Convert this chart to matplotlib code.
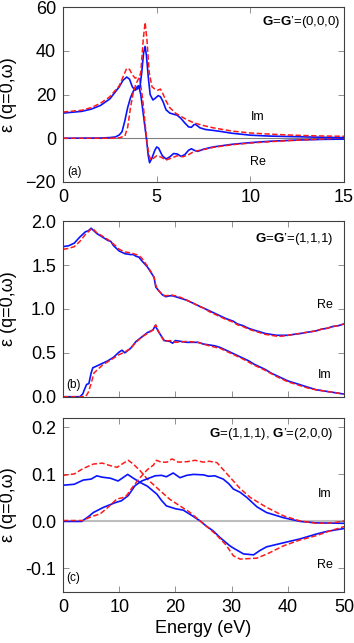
#!/usr/bin/env python3
"""
Dielectric matrix elements eps_GG'(q=0, w) -- three stacked panels.
Blue solid / red dashed = two levels of theory, Re and Im parts.
"""

import matplotlib
matplotlib.use('Agg')
import matplotlib.pyplot as plt

plt.rcParams['font.family'] = ['Liberation Sans', 'DejaVu Sans']
# bold G in the panel tags should match the text font, not DejaVu
plt.rcParams['mathtext.fontset'] = 'custom'
plt.rcParams['mathtext.rm'] = 'Liberation Sans'
plt.rcParams['mathtext.bf'] = 'Liberation Sans:bold'

# ---- panel (a): G=G'=(0,0,0), 0-15 eV ----
a_re_blue_x = [0, 1, 1.5, 2.0, 2.5, 3.0, 3.2, 3.4, 3.55, 3.7, 3.85, 3.95, 4.05, 4.15, 4.3, 4.45,
               4.55, 4.62, 4.75, 4.9, 5.0, 5.1, 5.3, 5.5, 5.7, 5.9, 6.1, 6.3, 6.5, 6.7, 6.85, 7.0,
               7.2, 7.5, 8, 9, 10, 11, 12, 13, 14, 15]
a_re_blue_y = [11.5, 12.3, 13.3, 15, 18, 23.5, 26.5, 28, 27, 23.5, 22, 22.5, 23.5, 20, 10, 0,
               -8, -11.2, -9, -5.5, -4, -4.5, -8, -9.5, -8.5, -7, -7.2, -8.3, -7.5, -5.5, -4.8, -5.5,
               -6, -5, -4, -2.8, -2, -1.4, -1, -0.7, -0.5, -0.4]
a_im_blue_x = [0, 2.0, 2.5, 2.8, 3.0, 3.15, 3.3, 3.45, 3.6, 3.75, 3.9, 4.02, 4.1, 4.2, 4.3, 4.38,
               4.45, 4.55, 4.65, 4.8, 4.95, 5.08, 5.2, 5.35, 5.5, 5.7, 5.9, 6.1, 6.3, 6.5, 6.7,
               6.85, 7.0, 7.1, 7.3, 7.6, 8, 8.5, 9, 10, 11, 12, 13, 14, 15]
a_im_blue_y = [0, 0.1, 0.3, 0.6, 1.5, 3, 8, 14, 18.5, 21.5, 23, 24, 23, 30, 39, 42,
               38, 28, 20, 17.5, 18.5, 19.5, 19, 16.5, 13, 11.5, 11, 10.5, 9, 7, 5.2,
               5, 6.3, 6.2, 4.8, 4, 3.6, 3, 2.3, 1.4, 1.0, 0.8, 0.6, 0.4, 0.3]
a_re_red_x = [0, 1, 1.5, 2, 2.5, 3.0, 3.2, 3.4, 3.55, 3.7, 3.85, 4.0, 4.1, 4.25, 4.4, 4.5, 4.6,
              4.7, 4.85, 5.0, 5.2, 5.5, 5.8, 6.1, 6.4, 6.7, 7.0, 7.3, 7.6, 8, 9, 10, 11, 12, 13, 14, 15]
a_re_red_y = [12, 12.8, 14, 16, 19, 24, 28, 32, 31.5, 29, 27.5, 28, 27, 18, 5, -3, -8,
              -10, -9, -8, -8.5, -10, -9, -8, -8.5, -7.5, -6, -5.5, -5, -4.2, -3, -2.2, -1.6, -1.1,
              -0.7, -0.3, 0.3]
a_im_red_x = [0, 2.5, 3.0, 3.3, 3.45, 3.6, 3.75, 3.9, 4.05, 4.15, 4.28, 4.38, 4.48, 4.6, 4.75,
              4.9, 5.05, 5.2, 5.35, 5.5, 5.7, 6.0, 6.3, 6.6, 7.0, 7.5, 8, 9, 10, 11, 12, 13, 14, 15]
a_im_red_y = [0, 0, 0.2, 1, 5, 14, 21, 25, 27.5, 30, 45, 53, 45, 30, 23.5,
              22.5, 22, 22.5, 20, 17, 14, 11.5, 10, 8.5, 7, 5.8, 4.8, 3.3, 2.4, 1.9, 1.5, 1.2, 1.0, 0.9]

# ---- panel (b): G=G'=(1,1,1), 0-50 eV ----
b_re_blue_x = [0, 1, 2, 3, 4, 4.5, 5, 5.5, 6, 7, 8, 8.5, 9, 10, 11, 12, 12.5, 13, 13.5, 14, 15,
               15.7, 16.2, 16.5, 17, 17.7, 18.3, 19, 19.5, 20, 21, 22, 23, 24.3, 25, 26, 27, 28,
               29, 30.3, 31, 32, 33, 33.9, 35, 36, 37, 38, 39, 40, 41, 42.2, 43, 44, 45, 46, 47,
               48, 49, 50]
b_re_blue_y = [1.71, 1.72, 1.75, 1.82, 1.88, 1.89, 1.92, 1.89, 1.86, 1.82, 1.78, 1.77, 1.72, 1.66,
               1.63, 1.62, 1.62, 1.60, 1.59, 1.55, 1.48, 1.41, 1.36, 1.25, 1.21, 1.16, 1.14, 1.15,
               1.15, 1.14, 1.12, 1.10, 1.07, 1.03, 1.01, 0.98, 0.95, 0.92, 0.89, 0.86, 0.83, 0.81,
               0.78, 0.76, 0.74, 0.72, 0.71, 0.70, 0.70, 0.70, 0.71, 0.72, 0.73, 0.74, 0.75,
               0.77, 0.78, 0.80, 0.81, 0.83]
b_re_red_x = [0, 1, 2, 3, 4, 5.2, 6, 7, 8, 9, 10, 11, 12, 13, 13.5, 14, 15, 15.7, 16.2, 16.5, 17,
              17.7, 18.3, 19.2, 20, 21, 22, 23, 24.3, 25, 26, 27, 28, 29, 30.3, 31, 32, 33, 34,
              35, 36, 37, 38, 39, 40, 41, 42, 43, 44, 45, 46, 47, 48, 49, 50]
b_re_red_y = [1.68, 1.69, 1.71, 1.77, 1.85, 1.92, 1.87, 1.83, 1.79, 1.74, 1.68, 1.65, 1.64, 1.62,
              1.61, 1.58, 1.49, 1.42, 1.36, 1.27, 1.21, 1.16, 1.15, 1.16, 1.15, 1.13, 1.10, 1.07,
              1.03, 1.01, 0.97, 0.94, 0.91, 0.88, 0.85, 0.82, 0.80, 0.77, 0.75, 0.73, 0.71, 0.70,
              0.69, 0.69, 0.70, 0.71, 0.72, 0.73, 0.74, 0.75, 0.77, 0.78, 0.80, 0.81, 0.83]
b_im_blue_x = [0, 3, 3.5, 3.8, 4.2, 4.6, 5.0, 5.3, 6, 7, 8, 9, 10, 10.5, 11, 12, 13, 14, 15, 16,
               16.4, 17, 18, 19, 19.5, 20, 21, 22, 23, 24, 25, 26, 27, 28, 29, 30, 31, 32, 33, 34,
               35, 36, 37, 38, 39, 40, 41, 42, 43, 44, 45, 46, 47, 48, 49, 50]
b_im_blue_y = [0, 0, 0.03, 0.08, 0.14, 0.15, 0.27, 0.33, 0.35, 0.38, 0.41, 0.45, 0.51, 0.53, 0.50,
               0.55, 0.63, 0.68, 0.73, 0.76, 0.81, 0.74, 0.64, 0.63, 0.61, 0.64, 0.63, 0.62, 0.62,
               0.62, 0.60, 0.59, 0.58, 0.56, 0.53, 0.50, 0.47, 0.44, 0.41, 0.37, 0.34, 0.31, 0.27,
               0.24, 0.21, 0.18, 0.16, 0.14, 0.12, 0.10, 0.08, 0.07, 0.06, 0.05, 0.04, 0.03]
b_im_red_x = [0, 4.0, 4.5, 5.0, 5.5, 6, 7, 8, 9, 10, 11, 12, 13, 14, 15, 16, 16.5, 17, 18, 19,
              20, 22, 24, 26, 28, 30, 32, 34, 36, 38, 40, 42, 44, 46, 48, 50]
b_im_red_y = [0, 0, 0.05, 0.15, 0.27, 0.30, 0.36, 0.40, 0.44, 0.48, 0.51, 0.55, 0.62, 0.68, 0.72,
              0.76, 0.82, 0.74, 0.63, 0.64, 0.62, 0.63, 0.62, 0.58, 0.55, 0.49, 0.43, 0.36, 0.30,
              0.23, 0.17, 0.13, 0.09, 0.07, 0.05, 0.03]

# ---- panel (c): G=(1,1,1), G'=(2,0,0), 0-50 eV ----
c_re_blue_x = [0, 2, 3.6, 5, 6, 7, 8.4, 9.8, 11.5, 12.5, 13.7, 15, 16.7, 17.5, 18.4, 20, 21.4, 23,
               24.4, 25.5, 26.7, 28, 29.7, 30.5, 32.1, 33.9, 35, 36.2, 39, 42.2, 45, 47, 50]
c_re_blue_y = [0.077, 0.079, 0.088, 0.090, 0.097, 0.094, 0.092, 0.086, 0.100, 0.092, 0.083, 0.075,
               0.058, 0.045, 0.033, 0.027, 0.024, 0.012, 0.001, -0.010, -0.020, -0.035, -0.052,
               -0.058, -0.069, -0.071, -0.062, -0.054, -0.046, -0.037, -0.027, -0.021, -0.015]
c_im_blue_x = [0, 3.3, 4.5, 5.4, 7.2, 9.3, 10.4, 11.6, 12.8, 14.0, 15.5, 16.4, 17.5, 18.4, 19.6,
               20.8, 22, 23.2, 25, 25.9, 27, 28.5, 29.5, 30.3, 31.5, 32.7, 34.5, 36.2, 39.2, 42.2,
               45, 50]
c_im_blue_y = [0, 0, 0.010, 0.019, 0.030, 0.040, 0.044, 0.055, 0.076, 0.086, 0.093, 0.097, 0.098,
               0.095, 0.103, 0.093, 0.098, 0.100, 0.099, 0.096, 0.097, 0.090, 0.080, 0.069, 0.062,
               0.051, 0.031, 0.019, 0.008, 0.000, -0.003, -0.004]
c_re_red_x = [0, 2, 3.5, 5.4, 7, 8, 9.6, 10.5, 11.6, 12.5, 13.7, 15, 17.3, 19, 20.8, 22.5, 24.4,
              26, 27.4, 29, 30.3, 31.5, 33, 34.5, 36.5, 39.2, 42, 45.1, 47.5, 50]
c_re_red_y = [0.098, 0.101, 0.112, 0.122, 0.124, 0.120, 0.115, 0.122, 0.130, 0.122, 0.108, 0.090,
              0.065, 0.047, 0.033, 0.020, 0.001, -0.015, -0.030, -0.050, -0.073, -0.080, -0.079,
              -0.078, -0.068, -0.052, -0.040, -0.030, -0.020, -0.011]
c_im_red_x = [0, 3.5, 5, 6.6, 8, 9.6, 10.5, 11.3, 12.5, 13.7, 15, 16.1, 16.6, 17.5, 18.5, 19.4,
              20.5, 22, 23.5, 25, 26, 27.4, 28.5, 30.3, 31.5, 33.3, 36.2, 39.2, 42.2, 45.1, 48, 50]
c_im_red_y = [0.002, 0.002, 0.010, 0.016, 0.030, 0.048, 0.050, 0.055, 0.075, 0.093, 0.110, 0.120,
              0.130, 0.126, 0.126, 0.133, 0.126, 0.127, 0.130, 0.126, 0.128, 0.125, 0.110, 0.086,
              0.070, 0.051, 0.030, 0.012, 0.001, -0.004, -0.003, 0.001]

BLUE = '#0a14ff'
RED = '#ff1a1a'
TICK_FS = 13
TAG_FS = 9.5
SMALL_FS = 9


def style_axes(ax):
    # gnuplot-like frame: grey ticks inward on every side
    for sp in ax.spines.values():
        sp.set_color('#404040')
        sp.set_linewidth(0.8)
    ax.tick_params(direction='in', top=True, right=True, length=4, width=0.6,
                   color='#808080', labelsize=TICK_FS, pad=5)


def draw_pair(ax, re_b, re_r, im_b, im_r):
    for (xb, yb), (xr, yr) in [(re_b, re_r), (im_b, im_r)]:
        ax.plot(xb, yb, color=BLUE, lw=1.2)
        ax.plot(xr, yr, color=RED, lw=1.1, ls=(0, (3.5, 1.6)))


def main():
    fig = plt.figure(figsize=(3.54, 6.43), dpi=100)
    left, width = 0.178, 0.794
    ax_a = fig.add_axes([left, 0.717, width, 0.272])
    ax_b = fig.add_axes([left, 0.383, width, 0.273])
    ax_c = fig.add_axes([left, 0.0793, width, 0.2707])

    # (a)
    ax_a.axhline(0, color='#808080', lw=0.8, zorder=0)
    draw_pair(ax_a, (a_re_blue_x, a_re_blue_y), (a_re_red_x, a_re_red_y),
              (a_im_blue_x, a_im_blue_y), (a_im_red_x, a_im_red_y))
    ax_a.set_xlim(0, 15)
    ax_a.set_ylim(-20, 60)
    ax_a.set_xticks([0, 5, 10, 15])
    ax_a.set_yticks([-20, 0, 20, 40, 60])
    ax_a.text(10.4, 9.9, 'Im', fontsize=SMALL_FS, ha='center', va='center')
    ax_a.text(10.4, -11, 'Re', fontsize=SMALL_FS, ha='center', va='center')
    ax_a.text(0.986, 0.914, r"$\mathbf{G}$=$\mathbf{G}$’=(0,0,0)", transform=ax_a.transAxes,
              fontsize=TAG_FS, ha='right', va='center')
    ax_a.text(0.015, 0.059, '(a)', transform=ax_a.transAxes, fontsize=8.5, ha='left', va='center')

    # (b)
    draw_pair(ax_b, (b_re_blue_x, b_re_blue_y), (b_re_red_x, b_re_red_y),
              (b_im_blue_x, b_im_blue_y), (b_im_red_x, b_im_red_y))
    ax_b.set_xlim(0, 50)
    ax_b.set_ylim(0, 2.0)
    ax_b.set_xticks([0, 10, 20, 30, 40, 50])
    ax_b.set_xticklabels([])
    ax_b.set_yticks([0, 0.5, 1.0, 1.5, 2.0])
    ax_b.set_yticklabels(['%.1f' % v for v in [0, 0.5, 1.0, 1.5, 2.0]])
    ax_b.text(46.6, 1.045, 'Re', fontsize=SMALL_FS, ha='center', va='center')
    ax_b.text(46.6, 0.25, 'Im', fontsize=SMALL_FS, ha='center', va='center')
    ax_b.text(0.961, 0.896, r"$\mathbf{G}$=$\mathbf{G}$’=(1,1,1)", transform=ax_b.transAxes,
              fontsize=TAG_FS, ha='right', va='center')
    ax_b.text(0.013, 0.068, '(b)', transform=ax_b.transAxes, fontsize=8.5, ha='left', va='center')

    # (c)
    ax_c.axhline(0, color='#bdbdbd', lw=1.5, zorder=0)
    draw_pair(ax_c, (c_re_blue_x, c_re_blue_y), (c_re_red_x, c_re_red_y),
              (c_im_blue_x, c_im_blue_y), (c_im_red_x, c_im_red_y))
    ax_c.set_xlim(0, 50)
    ax_c.set_ylim(-0.15, 0.22)
    ax_c.set_xticks([0, 10, 20, 30, 40, 50])
    ax_c.set_yticks([-0.1, 0.0, 0.1, 0.2])
    ax_c.set_yticklabels(['-0.1', '0.0', '0.1', '0.2'])
    ax_c.text(46.6, 0.059, 'Im', fontsize=SMALL_FS, ha='center', va='center')
    ax_c.text(46.6, -0.092, 'Re', fontsize=SMALL_FS, ha='center', va='center')
    ax_c.text(0.961, 0.906, r"$\mathbf{G}$=(1,1,1), $\mathbf{G}$’=(2,0,0)",
              transform=ax_c.transAxes, fontsize=TAG_FS, ha='right', va='center')
    ax_c.text(0.013, 0.079, '(c)', transform=ax_c.transAxes, fontsize=8.5, ha='left', va='center')
    ax_c.set_xlabel('Energy (eV)', fontsize=TICK_FS, labelpad=3)

    for ax in (ax_a, ax_b, ax_c):
        style_axes(ax)
        ax.set_ylabel('ε (q=0,ω)', fontsize=TICK_FS)
        ax.yaxis.set_label_coords(-0.165, 0.5)

    fig.savefig('out.png', dpi=100)
    plt.close('all')


if __name__ == "__main__":
    main()
